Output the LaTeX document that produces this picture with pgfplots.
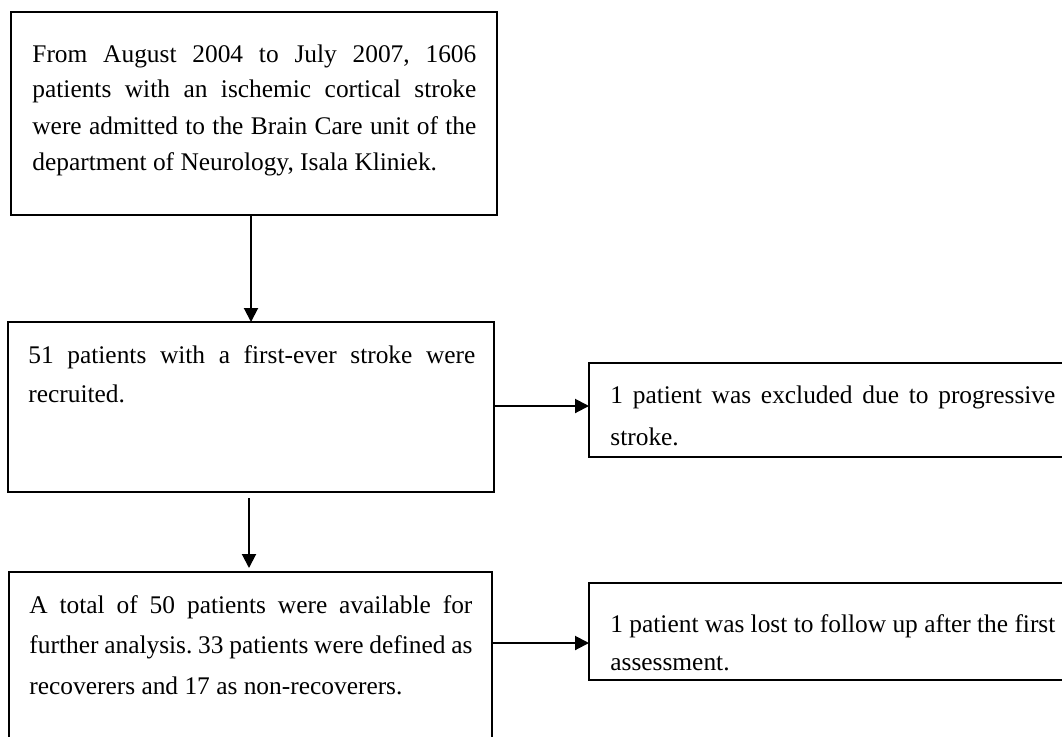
\documentclass[border=0pt]{standalone}
\usepackage{fontspec}
\setmainfont{Liberation Serif}
\usepackage{pgfplots}
\pgfplotsset{compat=1.18}
\usetikzlibrary{arrows.meta}
\begin{document}
\frenchspacing
\begin{tikzpicture}[every node/.style={font=\fontsize{12.7}{15}\selectfont, inner sep=0pt, anchor=base west}]
\begin{axis}[scale only axis, width=531pt, height=368pt,
  xmin=0, xmax=1062, ymin=0, ymax=736, y dir=reverse,
  hide axis, clip mode=individual]
% boxes
\addplot[black, line width=1pt, line cap=rect] coordinates {(11,12) (497,12) (497,215) (11,215) (11,12)};
\addplot[black, line width=1pt, line cap=rect] coordinates {(8,322) (494,322) (494,492) (8,492) (8,322)};
\addplot[black, line width=1pt, line cap=rect] coordinates {(9,760) (9,572) (492,572) (492,760)};
\addplot[black, line width=1pt, line cap=rect] coordinates {(1080,363) (589,363) (589,457) (1080,457)};
\addplot[black, line width=1pt, line cap=rect] coordinates {(1080,583) (589,583) (589,680) (1080,680)};
% arrows
\addplot[black, line width=1pt, -{Triangle[width=7pt,length=7pt]}] coordinates {(251,215) (251,322)};
\addplot[black, line width=1pt, -{Triangle[width=7pt,length=7pt]}] coordinates {(249,498) (249,568)};
\addplot[black, line width=1pt, -{Triangle[width=7pt,length=7pt]}] coordinates {(494,406) (589,406)};
\addplot[black, line width=1pt, -{Triangle[width=7pt,length=7pt]}] coordinates {(492,643) (589,643)};
% text: top box
\node at (axis cs:32,62) {\makebox[222pt][s]{From August 2004 to July 2007, 1606}};
\node at (axis cs:32,97) {\makebox[222pt][s]{patients with an ischemic cortical stroke}};
\node at (axis cs:32,134) {\makebox[222pt][s]{were admitted to the Brain Care unit of the}};
\node at (axis cs:32,170) {department of Neurology, Isala Kliniek.};
% middle box
\node at (axis cs:28,363) {\makebox[223.5pt][s]{51 patients with a first-ever stroke were}};
\node at (axis cs:28,402) {recruited.};
% right box 1
\node at (axis cs:610,403) {\makebox[222.5pt][s]{1 patient was excluded due to progressive}};
\node at (axis cs:610,445) {stroke.};
% bottom box
\node at (axis cs:29,613) {\makebox[221.5pt][s]{A total of 50 patients were available for}};
\node at (axis cs:29,653) {\makebox[221.5pt][s]{further analysis. 33 patients were defined as}};
\node at (axis cs:29,694) {recoverers and 17 as non-recoverers.};
% right box 2
\node at (axis cs:610,632) {\makebox[222.5pt][s]{1 patient was lost to follow up after the first}};
\node at (axis cs:610,670) {assessment.};
\end{axis}
\pgfresetboundingbox
\path (current axis.south west) rectangle (current axis.north east);
\end{tikzpicture}
\end{document}
